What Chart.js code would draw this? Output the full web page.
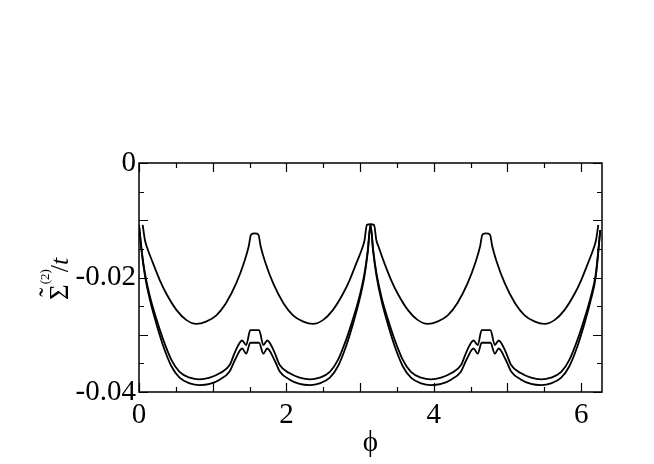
<!DOCTYPE html>
<html>
<head>
<meta charset="utf-8">
<script src="https://cdn.jsdelivr.net/npm/chart.js@4.4.0/dist/chart.umd.min.js"></script>
<style>
  html, body { margin: 0; padding: 0; background: #fff; }
  canvas { display: block; }
</style>
</head>
<body>
<canvas id="chart" width="654" height="464"></canvas>
<script>
// upper curve
const phiA = [0.05, 0.08, 0.105, 0.19, 0.28, 0.37, 0.51, 0.64, 0.78, 0.91, 1.05, 1.18, 1.32, 1.43, 1.49, 1.52, 1.571,
  1.62, 1.65, 1.71, 1.82, 1.96, 2.09, 2.23, 2.36, 2.50, 2.63, 2.77, 2.86, 2.95, 3.037, 3.062, 3.092, 3.142,
  3.19, 3.22, 3.25, 3.33, 3.42, 3.51, 3.65, 3.78, 3.92, 4.05, 4.19, 4.32, 4.46, 4.57, 4.63, 4.66, 4.712,
  4.763, 4.793, 4.853, 4.963, 5.103, 5.233, 5.373, 5.503, 5.643, 5.773, 5.913, 6.003, 6.093, 6.178, 6.203, 6.233];
const sigmaA = [-0.0108, -0.0134, -0.0146, -0.0175, -0.0204, -0.0228, -0.0257, -0.0274, -0.0281, -0.0277, -0.0266, -0.0245, -0.0210, -0.0172, -0.0145, -0.0125, -0.0123,
  -0.0125, -0.0145, -0.0172, -0.0210, -0.0245, -0.0266, -0.0277, -0.0281, -0.0274, -0.0257, -0.0228, -0.0204, -0.0175, -0.0146, -0.0134, -0.0108, -0.0107,
  -0.0108, -0.0134, -0.0146, -0.0175, -0.0204, -0.0228, -0.0257, -0.0274, -0.0281, -0.0277, -0.0266, -0.0245, -0.0210, -0.0172, -0.0145, -0.0125, -0.0123,
  -0.0125, -0.0145, -0.0172, -0.0210, -0.0245, -0.0266, -0.0277, -0.0281, -0.0274, -0.0257, -0.0228, -0.0204, -0.0175, -0.0146, -0.0134, -0.0108];

// two lower curves share one grid
const phiB = [0, 0.036, 0.081, 0.15, 0.24, 0.33, 0.44, 0.55, 0.69, 0.82, 0.96, 1.10, 1.23, 1.31, 1.40, 1.455, 1.51, 1.571,
  1.63, 1.687, 1.74, 1.83, 1.91, 2.04, 2.18, 2.32, 2.45, 2.59, 2.70, 2.81, 2.90, 2.99, 3.06, 3.105, 3.142,
  3.178, 3.223, 3.29, 3.38, 3.47, 3.58, 3.69, 3.83, 3.96, 4.10, 4.24, 4.37, 4.45, 4.54, 4.597, 4.65, 4.712,
  4.77, 4.829, 4.88, 4.97, 5.05, 5.18, 5.32, 5.46, 5.59, 5.73, 5.84, 5.95, 6.04, 6.13, 6.20, 6.26];
const sigmaB = [-0.0108, -0.0152, -0.0193, -0.0234, -0.0274, -0.0309, -0.0344, -0.0365, -0.0375, -0.0378, -0.0375, -0.0367, -0.0353, -0.0328, -0.0310, -0.0318, -0.0292, -0.0292,
  -0.0292, -0.0318, -0.0310, -0.0328, -0.0353, -0.0367, -0.0375, -0.0378, -0.0375, -0.0365, -0.0344, -0.0309, -0.0274, -0.0234, -0.0193, -0.0152, -0.0108,
  -0.0152, -0.0193, -0.0234, -0.0274, -0.0309, -0.0344, -0.0365, -0.0375, -0.0378, -0.0375, -0.0367, -0.0353, -0.0328, -0.0310, -0.0318, -0.0292, -0.0292,
  -0.0292, -0.0318, -0.0310, -0.0328, -0.0353, -0.0367, -0.0375, -0.0378, -0.0375, -0.0365, -0.0344, -0.0309, -0.0274, -0.0234, -0.0193, -0.0117];
const sigmaC = [-0.0108, -0.0155, -0.0197, -0.0240, -0.0283, -0.0320, -0.0355, -0.0375, -0.0385, -0.0388, -0.0386, -0.0378, -0.0364, -0.0342, -0.0324, -0.0333, -0.0314, -0.0314,
  -0.0314, -0.0333, -0.0324, -0.0342, -0.0364, -0.0378, -0.0386, -0.0388, -0.0385, -0.0375, -0.0355, -0.0320, -0.0283, -0.0240, -0.0197, -0.0155, -0.0108,
  -0.0155, -0.0197, -0.0240, -0.0283, -0.0320, -0.0355, -0.0375, -0.0385, -0.0388, -0.0386, -0.0378, -0.0364, -0.0342, -0.0324, -0.0333, -0.0314, -0.0314,
  -0.0314, -0.0333, -0.0324, -0.0342, -0.0364, -0.0378, -0.0386, -0.0388, -0.0385, -0.0375, -0.0355, -0.0320, -0.0283, -0.0240, -0.0197, -0.0117];

const xTickLabels = [0, 2, 4, 6];
const yTickLabels = [0, -0.02, -0.04];

const FONT = "'Liberation Serif', 'Times New Roman', serif";

function pts(xs, ys) {
  return xs.map((x, i) => ({ x: x, y: ys[i] }));
}

function curve(data) {
  return {
    data: data,
    borderColor: "#000",
    borderWidth: 1.8,
    pointRadius: 0,
    fill: false,
    cubicInterpolationMode: "monotone"
  };
}

// frame, inward ticks on all four sides, axis titles
const frame = {
  id: "frame",
  afterDraw(chart) {
    const ctx = chart.ctx;
    const a = chart.chartArea;
    const x = chart.scales.x;
    const y = chart.scales.y;
    ctx.save();
    ctx.strokeStyle = "#000";
    ctx.lineWidth = 1.2;
    ctx.beginPath();
    for (let i = 0; i <= 12; i++) {
      const px = Math.round(x.getPixelForValue(i * 0.5)) + 0.5;
      const len = i % 2 === 0 ? 9 : 5;
      ctx.moveTo(px, a.bottom); ctx.lineTo(px, a.bottom - len);
      ctx.moveTo(px, a.top); ctx.lineTo(px, a.top + len);
    }
    for (let i = 0; i <= 8; i++) {
      const py = Math.round(y.getPixelForValue(-i * 0.005)) + 0.5;
      const len = i % 2 === 0 ? 9 : 5;
      ctx.moveTo(a.left, py); ctx.lineTo(a.left + len, py);
      ctx.moveTo(a.right, py); ctx.lineTo(a.right - len, py);
    }
    ctx.stroke();
    ctx.lineWidth = 1.5;
    ctx.strokeRect(a.left, a.top, a.right - a.left, a.bottom - a.top);

    ctx.fillStyle = "#000";
    // x title
    ctx.font = "29px " + FONT;
    ctx.textAlign = "center";
    ctx.textBaseline = "alphabetic";
    ctx.fillText("ϕ", (a.left + a.right) / 2, 451);

    // y title, rotated, reading upward
    ctx.translate(68, 300);
    ctx.rotate(-Math.PI / 2);
    ctx.textAlign = "left";
    ctx.font = "27px " + FONT;
    ctx.fillText("Σ", 0, 0);
    const wS = ctx.measureText("Σ").width;
    ctx.textAlign = "center";
    ctx.fillText("˜", wS / 2, -10);
    ctx.textAlign = "left";
    ctx.font = "13px " + FONT;
    ctx.fillText("(2)", wS, -19);
    const wP = ctx.measureText("(2)").width;
    ctx.font = "26px " + FONT;
    ctx.fillText("/", wS + wP - 3, 0);
    const wSl = ctx.measureText("/").width;
    ctx.font = "italic 26px " + FONT;
    ctx.fillText("t", wS + wP - 3 + wSl, 0);
    ctx.restore();
  }
};

new Chart(document.getElementById("chart"), {
  type: "line",
  data: {
    datasets: [
      curve(pts(phiA, sigmaA)),
      curve(pts(phiB, sigmaB)),
      curve(pts(phiB, sigmaC))
    ]
  },
  options: {
    responsive: false,
    animation: false,
    layout: { padding: { top: 163, right: 52, left: 0, bottom: 0 } },
    plugins: { legend: { display: false }, tooltip: { enabled: false } },
    scales: {
      x: {
        type: "linear",
        min: 0,
        max: 2 * Math.PI,
        afterFit: s => { s.height = 72; },
        afterBuildTicks: s => { s.ticks = xTickLabels.map(v => ({ value: v })); },
        grid: { display: false, drawTicks: false },
        border: { display: false },
        ticks: {
          color: "#000",
          padding: 6,
          maxRotation: 0,
          autoSkip: false,
          font: { family: FONT, size: 29 },
          callback: v => String(v)
        }
      },
      y: {
        type: "linear",
        min: -0.04,
        max: 0,
        afterFit: s => { s.width = 139; },
        afterBuildTicks: s => { s.ticks = yTickLabels.map(v => ({ value: v })); },
        grid: { display: false, drawTicks: false },
        border: { display: false },
        ticks: {
          color: "#000",
          padding: 3,
          autoSkip: false,
          font: { family: FONT, size: 29 },
          callback: v => (Math.abs(v) < 1e-9 ? "0" : v.toFixed(2))
        }
      }
    }
  },
  plugins: [frame]
});
</script>
</body>
</html>
